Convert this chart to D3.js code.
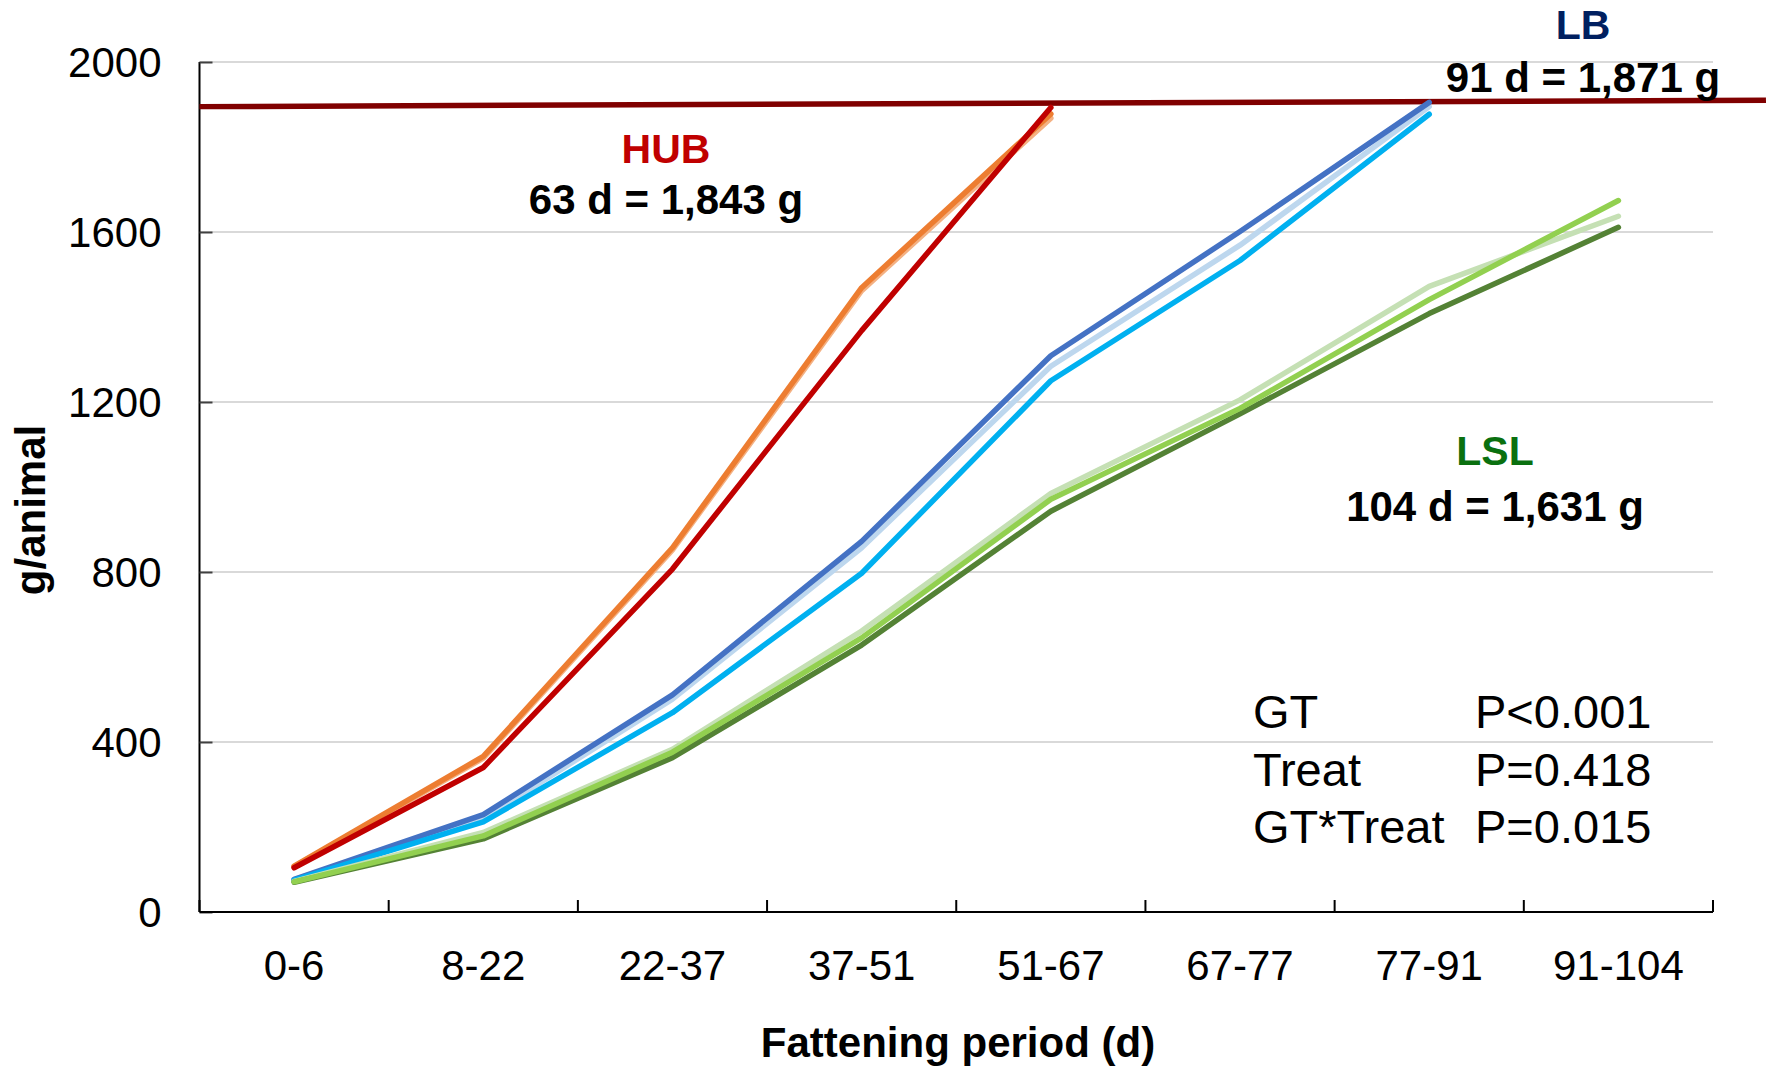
<!DOCTYPE html>
<html>
<head>
<meta charset="utf-8">
<script src="https://cdn.jsdelivr.net/npm/d3@7"></script>
<style>
  html, body { margin: 0; padding: 0; background: #fff; }
  svg { display: block; font-family: "Liberation Sans", Arial, sans-serif; }
</style>
</head>
<body>
<svg id="chart" width="1770" height="1070"></svg>
<script>
// ---------- data ----------
const categories = ["0-6", "8-22", "22-37", "37-51", "51-67", "67-77", "77-91", "91-104"];
const yTicks = [0, 400, 800, 1200, 1600, 2000];

// HUB
const hubOrange      = [108, 366, 857, 1469, 1878];
const hubLightOrange = [107, 362, 852, 1462, 1868];
const hubRed         = [104, 340, 807, 1368, 1893];
// LB
const lbLight = [76, 220, 501, 857, 1284, 1569, 1895];
const lbDark  = [77, 229, 511, 872, 1309, 1601, 1905];
const lbCyan  = [75, 212, 469, 797, 1250, 1533, 1877];
// LSL
const lslPale = [72, 187, 383, 661, 985, 1205, 1472, 1637];
const lslDark = [70, 172, 363, 628, 943, 1172, 1408, 1611];
const lslMid  = [71, 179, 376, 645, 971, 1185, 1441, 1674];

// threshold line (position in category index units, value in g)
const thresholdLine = [{at: -0.5, value: 1895}, {at: 7.78, value: 1910}];

const groupLabels = [
  {name: "HUB", result: "63 d = 1,843 g",  color: "#C00000"},
  {name: "LB",  result: "91 d = 1,871 g",  color: "#002060"},
  {name: "LSL", result: "104 d = 1,631 g", color: "#0A700F"}
];
const statNames  = ["GT", "Treat", "GT*Treat"];
const statValues = ["P<0.001", "P=0.418", "P=0.015"];

const seriesList = [
  {values: hubLightOrange, color: "#F4B183"},
  {values: hubOrange,      color: "#ED7D31"},
  {values: hubRed,         color: "#C00000"},
  {values: lbLight,        color: "#BDD7EE"},
  {values: lbDark,         color: "#4472C4"},
  {values: lbCyan,         color: "#00B0F0"},
  {values: lslPale,        color: "#C5E0B4"},
  {values: lslDark,        color: "#548235"},
  {values: lslMid,         color: "#92D050"}
];

// ---------- layout ----------
const svg = d3.select("#chart");
const pLeft = 199.5, pRight = 1713, pTop = 62, pBottom = 912;

const x = d3.scaleBand().domain(categories).range([pLeft, pRight]).padding(0);
const xIdx = d3.scaleLinear().domain([-0.5, categories.length - 0.5]).range([pLeft, pRight]);
const y = d3.scaleLinear().domain([0, 2000]).range([pBottom, pTop]);

// gridlines
svg.append("g")
  .selectAll("line")
  .data(yTicks.filter(d => d > 0))
  .join("line")
  .attr("x1", pLeft).attr("x2", pRight)
  .attr("y1", d => y(d)).attr("y2", d => y(d))
  .attr("stroke", "#d9d9d9").attr("stroke-width", 2);

// y axis
const yAxis = svg.append("g")
  .attr("transform", `translate(${pLeft},0)`)
  .call(d3.axisRight(y).tickValues(yTicks).tickSize(13).tickFormat(""));
yAxis.select(".domain").attr("stroke", "#000").attr("stroke-width", 2).attr("d", `M0,${pTop}V${pBottom}`);
yAxis.selectAll(".tick line").attr("stroke", "#404040").attr("stroke-width", 2);

svg.append("g")
  .selectAll("text")
  .data(yTicks)
  .join("text")
  .attr("x", pLeft - 38)
  .attr("y", d => y(d))
  .attr("dy", "0.35em")
  .attr("text-anchor", "end")
  .attr("font-size", 42)
  .attr("fill", "#000")
  .text(d => d);

// x axis
const boundaries = categories.map(c => x(c)).concat([pRight]);
svg.append("line")
  .attr("x1", pLeft).attr("x2", pRight)
  .attr("y1", pBottom).attr("y2", pBottom)
  .attr("stroke", "#000").attr("stroke-width", 2);
svg.append("g")
  .selectAll("line")
  .data(boundaries)
  .join("line")
  .attr("x1", d => d).attr("x2", d => d)
  .attr("y1", pBottom).attr("y2", pBottom - 12)
  .attr("stroke", "#000").attr("stroke-width", 2);

svg.append("g")
  .selectAll("text")
  .data(categories)
  .join("text")
  .attr("x", d => x(d) + x.bandwidth() / 2)
  .attr("y", 980)
  .attr("text-anchor", "middle")
  .attr("font-size", 42)
  .attr("fill", "#000")
  .text(d => d);

// axis titles
svg.append("text")
  .attr("x", 958).attr("y", 1057)
  .attr("text-anchor", "middle")
  .attr("font-size", 42).attr("font-weight", "bold")
  .text("Fattening period (d)");

svg.append("text")
  .attr("transform", "translate(45,510) rotate(-90)")
  .attr("text-anchor", "middle")
  .attr("font-size", 42).attr("font-weight", "bold")
  .text("g/animal");

// threshold line
svg.append("line")
  .attr("x1", xIdx(thresholdLine[0].at)).attr("y1", y(thresholdLine[0].value))
  .attr("x2", xIdx(thresholdLine[1].at)).attr("y2", y(thresholdLine[1].value))
  .attr("stroke", "#800000").attr("stroke-width", 5.5);

// series
const line = d3.line()
  .x((d, i) => x(categories[i]) + x.bandwidth() / 2)
  .y(d => y(d));

svg.append("g")
  .selectAll("path")
  .data(seriesList)
  .join("path")
  .attr("d", d => line(d.values))
  .attr("fill", "none")
  .attr("stroke", d => d.color)
  .attr("stroke-width", 5.5)
  .attr("stroke-linecap", "round")
  .attr("stroke-linejoin", "round");

// group annotations
const labelPos = [
  {cx: 666,  nameY: 163, resY: 214},
  {cx: 1583, nameY: 39,  resY: 92},
  {cx: 1495, nameY: 465, resY: 521}
];
groupLabels.forEach((g, i) => {
  const p = labelPos[i];
  svg.append("text")
    .attr("x", p.cx).attr("y", p.nameY)
    .attr("text-anchor", "middle")
    .attr("font-size", 41).attr("font-weight", "bold")
    .attr("fill", g.color)
    .text(g.name);
  svg.append("text")
    .attr("x", p.cx).attr("y", p.resY)
    .attr("text-anchor", "middle")
    .attr("font-size", 42).attr("font-weight", "bold")
    .attr("fill", "#000")
    .text(g.result);
});

// statistics
const statBase = [728, 786, 843];
statNames.forEach((s, i) => {
  svg.append("text")
    .attr("x", 1253).attr("y", statBase[i])
    .attr("font-size", 47).attr("fill", "#000")
    .text(s);
  svg.append("text")
    .attr("x", 1475).attr("y", statBase[i])
    .attr("font-size", 47).attr("fill", "#000")
    .text(statValues[i]);
});
</script>
</body>
</html>
